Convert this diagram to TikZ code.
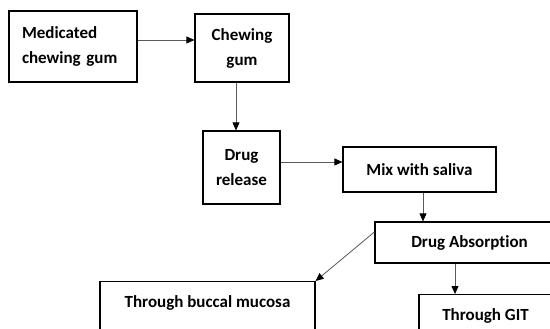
\documentclass[tikz,border=0pt]{standalone}
\usepackage{fontspec}
\setmainfont{Carlito}[Ligatures={NoCommon}]
\usetikzlibrary{arrows.meta}
\begin{document}
\begin{tikzpicture}[x=1pt,y=-1pt,
  box/.style={draw=black,line width=1.2pt,rectangle,inner sep=0pt,align=center,
    font=\fontsize{17}{25}\selectfont\bfseries},
  openbox/.style={draw=black,line width=1.2pt,rectangle,inner xsep=0pt,inner ysep=14pt,
    text height=12pt,text depth=40pt,font=\fontsize{17}{25}\selectfont\bfseries},
  conn/.style={draw=black!65,line width=0.8pt,-{Triangle[length=8pt,width=7pt,fill=black,color=black]}}]
\useasboundingbox (0,0) rectangle (550,329);
\clip (0,0) rectangle (550,329);
\fill[white] (0,0) rectangle (550,329);
\node[box,minimum width=128pt,minimum height=71pt,inner xsep=13pt,text width=102pt,align=left] (b1) at (73,46.5) {Medicated\\chewing gum};
\node[box,minimum width=94pt,minimum height=68pt] (b2) at (242,48) {Chewing\\gum};
\node[box,minimum width=77pt,minimum height=73pt] (b3) at (241.5,167.5) {Drug\\release};
\node[box,minimum width=153pt,minimum height=45pt] (b4) at (419.5,169.5) {Mix with saliva};
\node[box,minimum width=189pt,minimum height=41pt] (b5) at (469.5,242.5) {Drug Absorption};
\node[openbox,minimum width=215pt,anchor=north] (b6) at (207.5,281) {Through buccal mucosa};
\node[openbox,minimum width=133pt,anchor=north] (b7) at (485.5,294) {Through GIT};
\draw[conn] ([yshift=6.5pt]b1.east) -- ([yshift=8pt]b2.west);
\draw[conn] ([xshift=-6pt]b2.south) -- ([xshift=-5.5pt]b3.north);
\draw[conn] ([yshift=5.5pt]b3.east) -- ([yshift=7.5pt]b4.west);
\draw[conn] ([xshift=3.5pt]b4.south) -- ([xshift=-46.5pt]b5.north);
\draw[conn] ([yshift=10.5pt]b5.west) -- (b6.north east);
\draw[conn] ([xshift=-14.5pt]b5.south) -- ([xshift=-30.5pt]b7.north);
\end{tikzpicture}
\end{document}
